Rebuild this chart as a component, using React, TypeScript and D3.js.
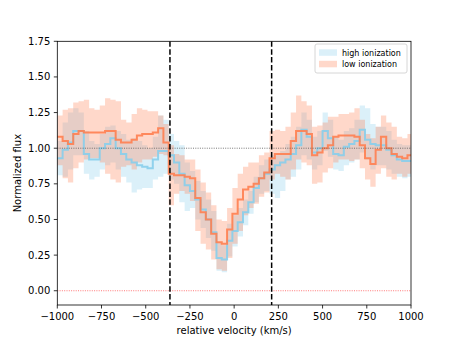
import * as React from "react";
import * as d3 from "d3";

// bin left edges (km/s)
const velocity = [
  -1000, -970, -940, -910, -880, -850, -820, -790, -760, -730, -700, -670, -640, -610, -580, -550, -520,
  -490, -460, -430, -400, -370, -340, -310, -280, -250, -220, -190, -160, -130, -100, -70, -40, -10,
  20, 50, 80, 110, 140, 170, 200, 230, 260, 290, 320, 350, 380, 410, 440, 470, 500, 530, 560, 590,
  620, 650, 680, 710, 740, 770, 800, 830, 860, 890, 920, 950, 980,
];

const highFlux = [
  0.93, 0.99, 1.04, 1.12, 1.12, 0.96, 0.92, 0.92, 1.0, 1.03, 1.07, 1.0, 0.96, 0.92, 0.9, 0.88, 0.87,
  0.86, 0.92, 0.98, 0.98, 0.95, 0.9, 0.82, 0.74, 0.7, 0.64, 0.57, 0.5, 0.41, 0.23, 0.22, 0.35, 0.42,
  0.48, 0.55, 0.62, 0.72, 0.79, 0.82, 0.85, 0.88, 0.9, 0.92, 0.96, 1.02, 1.13, 1.08, 0.97, 1.0, 1.12,
  1.07, 0.96, 0.95, 1.01, 1.03, 1.05, 1.13, 1.06, 1.03, 1.02, 1.02, 0.99, 0.95, 0.92, 0.91, 0.91,
];
const highLo = [
  0.81, 0.8, 0.85, 0.95, 0.95, 0.82, 0.78, 0.8, 0.85, 0.88, 0.9, 0.85, 0.8, 0.76, 0.69, 0.71, 0.72,
  0.72, 0.78, 0.8, 0.82, 0.78, 0.75, 0.62, 0.56, 0.58, 0.5, 0.44, 0.37, 0.28, 0.14, 0.13, 0.24, 0.31,
  0.38, 0.46, 0.54, 0.62, 0.68, 0.7, 0.68, 0.65, 0.7, 0.78, 0.8, 0.85, 0.95, 0.92, 0.85, 0.88, 0.98,
  0.94, 0.85, 0.84, 0.88, 0.9, 0.92, 0.97, 0.92, 0.85, 0.88, 0.88, 0.85, 0.82, 0.8, 0.79, 0.8,
];
const highHi = [
  1.05, 1.18, 1.25, 1.28, 1.25, 1.12, 1.05, 1.03, 1.1, 1.15, 1.16, 1.12, 1.1, 1.06, 1.07, 1.05, 1.02,
  1.0, 1.08, 1.23, 1.2, 1.1, 1.05, 1.02, 0.9, 0.84, 0.77, 0.7, 0.64, 0.56, 0.34, 0.32, 0.47, 0.53,
  0.58, 0.64, 0.7, 0.8, 0.88, 0.92, 0.95, 0.95, 0.98, 1.03, 1.08, 1.15, 1.25, 1.2, 1.08, 1.12, 1.25,
  1.2, 1.08, 1.06, 1.12, 1.14, 1.2, 1.3, 1.28, 1.17, 1.15, 1.15, 1.12, 1.06, 1.03, 1.02, 1.02,
];

const lowFlux = [
  1.08, 1.05, 1.03, 1.1, 1.12, 1.11, 1.11, 1.11, 1.11, 1.12, 1.12, 1.06, 1.04, 1.04, 1.06, 1.09, 1.1,
  1.1, 1.11, 1.14, 1.04, 0.82, 0.81, 0.81, 0.8, 0.79, 0.65, 0.55, 0.5, 0.4, 0.34, 0.33, 0.43, 0.54,
  0.64, 0.71, 0.73, 0.75, 0.79, 0.83, 0.93, 0.96, 0.96, 0.96, 1.05, 1.12, 1.12, 1.1, 0.95, 0.97, 1.0,
  1.02, 1.08, 1.09, 1.09, 1.09, 1.08, 1.02, 0.93, 0.89, 0.99, 1.08, 1.0, 0.96, 0.94, 0.93, 0.95,
];
const lowLo = [
  0.88, 0.79, 0.76, 0.86, 0.9, 0.92, 0.93, 0.93, 0.9, 0.82, 0.78, 0.76, 0.87, 0.88, 0.85, 0.9, 0.92,
  0.92, 0.94, 0.96, 0.95, 0.6, 0.68, 0.7, 0.68, 0.63, 0.42, 0.33, 0.29, 0.22, 0.15, 0.14, 0.23, 0.33,
  0.42, 0.53, 0.58, 0.61, 0.66, 0.69, 0.78, 0.82, 0.8, 0.78, 0.85, 0.92, 0.9, 0.88, 0.75, 0.76, 0.83,
  0.86, 0.9, 0.92, 0.92, 0.91, 0.92, 0.86, 0.78, 0.73, 0.82, 0.86, 0.8, 0.78, 0.82, 0.8, 0.82,
];
const lowHi = [
  1.23, 1.27, 1.28, 1.32, 1.33, 1.34, 1.28, 1.27, 1.3, 1.35, 1.34, 1.33, 1.2, 1.18, 1.24, 1.28, 1.27,
  1.26, 1.26, 1.23, 1.17, 1.02, 0.96, 0.95, 0.92, 0.92, 0.85, 0.76, 0.69, 0.6, 0.5, 0.49, 0.58, 0.72,
  0.82, 0.87, 0.9, 0.9, 0.95, 0.97, 1.12, 1.13, 1.12, 1.15, 1.25, 1.37, 1.33, 1.3, 1.15, 1.16, 1.18,
  1.22, 1.22, 1.24, 1.24, 1.25, 1.28, 1.2, 1.1, 1.07, 1.15, 1.23, 1.18, 1.15, 1.08, 1.07, 1.1,
];

const xTicks = [-1000, -750, -500, -250, 0, 250, 500, 750, 1000];
const yTicks = [0, 0.25, 0.5, 0.75, 1.0, 1.25, 1.5, 1.75];
const windowEdges = [-363, 212];

const series = [
  { label: "high ionization", flux: highFlux, lo: highLo, hi: highHi, color: "#87ceeb" },
  { label: "low ionization", flux: lowFlux, lo: lowLo, hi: lowHi, color: "#ff7f50" },
];

const font = "DejaVu Sans, sans-serif";

export default function App() {
  const left = 57.3;
  const right = 411;
  const top = 41.3;
  const bottom = 305;

  const x = d3.scaleLinear().domain([-1000, 1000]).range([left, right]);
  const y = d3.scaleLinear().domain([-0.1, 1.75]).range([bottom, top]);

  const rows = (s) => {
    const r = velocity.map((v, i) => ({ v, f: s.flux[i], lo: s.lo[i], hi: s.hi[i] }));
    const last = r[r.length - 1];
    r.push({ ...last, v: 1010 });
    return r;
  };

  const area = d3
    .area()
    .x((d) => x(d.v))
    .y0((d) => y(d.lo))
    .y1((d) => y(d.hi))
    .curve(d3.curveStepAfter);

  const line = d3
    .line()
    .x((d) => x(d.v))
    .y((d) => y(d.f))
    .curve(d3.curveStepAfter);

  return (
    <svg width={457} height={343} style={{ position: "absolute", left: 0, top: 0 }}>
      <defs>
        <clipPath id="plot">
          <rect x={left} y={top} width={right - left} height={bottom - top} />
        </clipPath>
      </defs>
      <rect width={457} height={343} fill="white" />
      <g clipPath="url(#plot)">
        {series.map((s) => (
          <path key={s.label + "a"} d={area(rows(s))} fill={s.color} fillOpacity={0.3} />
        ))}
        {series.map((s) => (
          <path key={s.label + "l"} d={line(rows(s))} fill="none" stroke={s.color} strokeOpacity={0.9} strokeWidth={2} />
        ))}
        <line x1={left} x2={right} y1={y(1)} y2={y(1)} stroke="#555" strokeWidth={0.8} strokeDasharray="1 1.3" />
        <line x1={left} x2={right} y1={y(0)} y2={y(0)} stroke="#ff5555" strokeWidth={0.8} strokeDasharray="1 1.3" />
        {windowEdges.map((v) => (
          <line key={v} x1={x(v)} x2={x(v)} y1={top} y2={bottom} stroke="black" strokeWidth={1.5} strokeDasharray="5.5 2.4" />
        ))}
      </g>
      <rect x={left} y={top} width={right - left} height={bottom - top} fill="none" stroke="black" strokeWidth={0.8} />
      {xTicks.map((t) => (
        <g key={t} transform={`translate(${x(t)},${bottom})`}>
          <line y2={3.5} stroke="black" strokeWidth={0.8} />
          <text y={15} textAnchor="middle" fontFamily={font} fontSize={10} fill="black">
            {t < 0 ? "\u2212" + Math.abs(t) : t}
          </text>
        </g>
      ))}
      {yTicks.map((t) => (
        <g key={t} transform={`translate(${left},${y(t)})`}>
          <line x2={-3.5} stroke="black" strokeWidth={0.8} />
          <text x={-7} dy="0.35em" textAnchor="end" fontFamily={font} fontSize={10} fill="black">
            {t.toFixed(2)}
          </text>
        </g>
      ))}
      <text x={(left + right) / 2} y={334} textAnchor="middle" fontFamily={font} fontSize={10}>
        relative velocity (km/s)
      </text>
      <text transform={`translate(21,${(top + bottom) / 2}) rotate(-90)`} textAnchor="middle" fontFamily={font} fontSize={10}>
        Normalized flux
      </text>
      <g transform="translate(315,44)">
        <rect width={92} height={29} rx={2} fill="white" fillOpacity={0.8} stroke="#ccc" strokeWidth={0.8} />
        {series.map((s, i) => (
          <g key={s.label} transform={`translate(0,${i * 11.5})`}>
            <rect x={4} y={5.3} width={18} height={6.5} fill={s.color} fillOpacity={0.3} />
            <text x={27} y={11.5} fontFamily={font} fontSize={8}>
              {s.label}
            </text>
          </g>
        ))}
      </g>
    </svg>
  );
}
